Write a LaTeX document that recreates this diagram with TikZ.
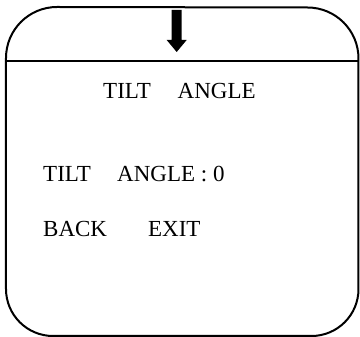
\documentclass[tikz,border=0pt]{standalone}
\usepackage{fontspec}
\setmainfont{Liberation Serif}
\begin{document}
\begin{tikzpicture}[x=1pt,y=1pt,
  frame/.style={line width=2pt},
  menutext/.style={anchor=base west,inner sep=0pt,font=\fontsize{23}{27}\selectfont}]
\useasboundingbox (0,0) rectangle (360,337);
% outer rounded frame
\draw[frame] (6,48) -- (6,279) arc (180:90:51) -- (307.5,329.5) arc (90:0:51)
  -- (358.5,48) arc (0:-90:47) -- (53,1) arc (270:180:47) -- cycle;
% header separator
\coordinate (sepL) at (6,275.5);
\coordinate (sepR) at (358.5,275.5);
\draw[frame] (sepL) -- (sepR);
% down arrow
\fill (171.7,327) -- (181.7,327) -- (181.7,297) -- (186.7,297) -- (176.7,285)
  -- (166.7,297) -- (171.7,297) -- cycle;
% texts
\node[menutext] (title) at (103,238.7) {\makebox[74.5pt][l]{TILT}ANGLE};
\node[menutext] (angle) at (43,155) {\makebox[74pt][l]{TILT}ANGLE : 0};
\node[menutext] (back) at (43,100) {\makebox[105pt][l]{BACK}EXIT};
\end{tikzpicture}
\end{document}
